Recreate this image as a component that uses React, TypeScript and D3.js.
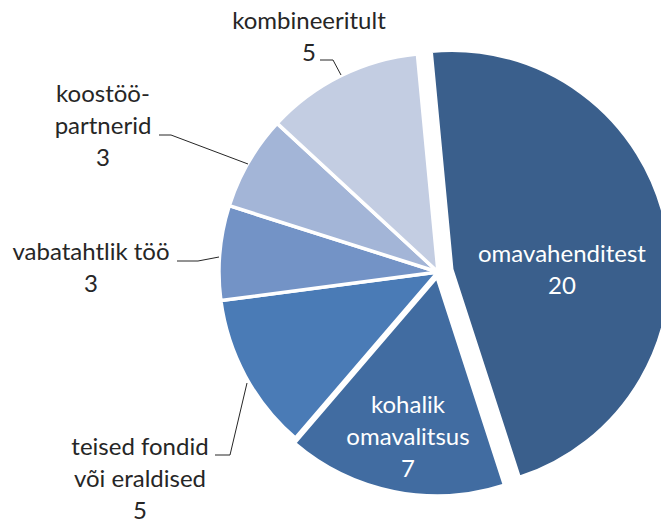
import { useEffect, useRef } from 'react';
import * as d3 from 'd3';

const categories = ['omavahenditest', 'kohalik omavalitsus', 'teised fondid või eraldised', 'vabatahtlik töö', 'koostööpartnerid', 'kombineeritult'];
const values = [20, 7, 5, 3, 3, 5];
const colors = ['#3a5f8c', '#416ca1', '#4a7bb6', '#7393c6', '#a3b5d7', '#c3cde2'];
// label lines for each slice (last line is the value)
const labelLines = [
  ['omavahenditest'],
  ['kohalik', 'omavalitsus'],
  ['teised fondid', 'või eraldised'],
  ['vabatahtlik töö'],
  ['koostöö-', 'partnerid'],
  ['kombineeritult'],
];
const explode = [14, 5, 0, 0, 0, 0];

const App = () => {
  const svgRef = useRef<SVGSVGElement>(null);

  useEffect(() => {
    const width = 661;
    const height = 522;
    const cx = 438;
    const cy = 272;
    const radius = 219;
    const fontSize = 24;
    const lineH = 32;

    const svg = d3.select(svgRef.current);
    svg.selectAll('*').remove();
    svg.attr('width', width).attr('height', height);

    const data = categories.map((c, i) => ({ name: c, value: values[i], i }));
    const startAngle = (-5.4 * Math.PI) / 180;

    const pie = d3.pie<any>()
      .value(d => d.value)
      .sort(null)
      .startAngle(startAngle)
      .endAngle(startAngle + 2 * Math.PI);

    const arc = d3.arc<any>().innerRadius(0).outerRadius(radius);
    const arcs = pie(data);

    const g = svg.append('g').attr('transform', `translate(${cx},${cy})`);

    g.selectAll('path')
      .data(arcs)
      .enter()
      .append('path')
      .attr('d', arc)
      .attr('transform', d => {
        const mid = (d.startAngle + d.endAngle) / 2;
        const off = explode[d.data.i];
        return `translate(${Math.sin(mid) * off},${-Math.cos(mid) * off})`;
      })
      .attr('fill', d => colors[d.data.i])
      .attr('stroke', 'white')
      .attr('stroke-width', 3.5)
      .attr('stroke-linejoin', 'round');

    const font = 'Lato, "Open Sans", sans-serif';

    // label positions: [x, first baseline, fill]
    const labelPos: [number, number, string][] = [
      [562, 262, 'white'],
      [408, 413, 'white'],
      [140, 455, '#262626'],
      [91, 260, '#262626'],
      [103, 102, '#262626'],
      [309, 29, '#262626'],
    ];

    labelLines.forEach((lines, i) => {
      const [x, y, fill] = labelPos[i];
      const t = svg.append('text')
        .attr('text-anchor', 'middle')
        .attr('font-family', font)
        .attr('font-size', fontSize)
        .attr('fill', fill);
      [...lines, String(values[i])].forEach((ln, k) => {
        t.append('tspan').attr('x', x).attr('y', y + k * lineH).text(ln);
      });
    });

    // leader lines
    const leaders: [number, number][][] = [
      [[215, 455], [230, 455], [247, 383]],
      [[177, 261], [198, 261], [219, 257]],
      [[159, 135], [171, 135], [248, 164]],
      [[320, 60], [333, 60], [341, 75]],
    ];
    const line = d3.line();
    svg.selectAll('path.leader')
      .data(leaders)
      .enter()
      .append('path')
      .attr('class', 'leader')
      .attr('d', d => line(d))
      .attr('fill', 'none')
      .attr('stroke', '#262626')
      .attr('stroke-width', 1);
  }, []);

  return (
    <div style={{ position: 'absolute', left: 0, top: 0 }}>
      <svg ref={svgRef} style={{ display: 'block' }}></svg>
    </div>
  );
};

export default App;
